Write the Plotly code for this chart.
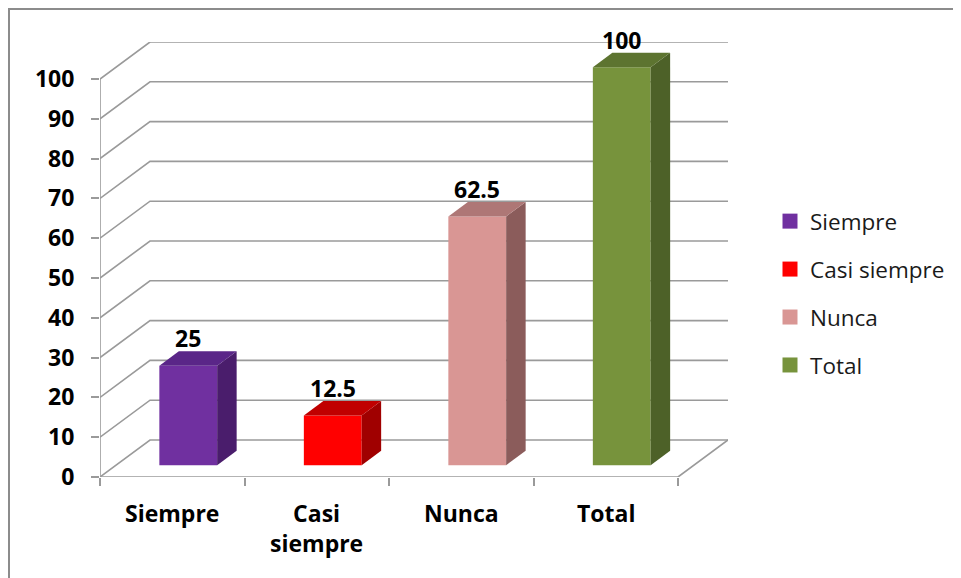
import plotly.graph_objects as go

categories = ["Siempre", "Casi siempre", "Nunca", "Total"]
axis_labels = ["Siempre", "Casi<br>siempre", "Nunca", "Total"]
values = [25, 12.5, 62.5, 100]
y_ticks = [0, 10, 20, 30, 40, 50, 60, 70, 80, 90, 100]

front_colors = ["#7030A0", "#FF0000", "#D99694", "#77933C"]
top_colors = ["#5A2688", "#C00000", "#AE7776", "#5D7430"]
side_colors = ["#4A1D6C", "#A00000", "#8B5C5B", "#4D6128"]

# pseudo-3D projection (depth offsets in axis units)
DX, DY = 0.346, 9.3
F, B = 0.32, 0.39      # bar front depth, bar depth
HW = 0.2               # half bar width
GRID = "#9a9a9a"
FONT = "Open Sans"
OFF = 8                # page body margin of the browser

# plot area in page pixels
PL, PR, PT, P0 = 100, 728, 42, 477
W, H = 961, 578
PW, PH = PR - PL, P0 - PT


def paper_x(px):
    return (px - PL) / PW


def paper_y(py):
    return (P0 - py) / PH


fig = go.Figure()
n = len(categories)

# back-wall gridlines (beneath the bars)
for v in y_ticks:
    fig.add_shape(type="path", xref="x", yref="y", layer="below",
                  path=f"M 0,{v} L {DX},{v + DY} L {n + DX},{v + DY}",
                  line=dict(color=GRID, width=1.6))
# floor front edge and right edge
fig.add_shape(type="path", xref="x", yref="y", layer="below",
              path=f"M 0,0 L {n},0 L {n + DX},{DY}", line=dict(color=GRID, width=1.6))
# front vertical axis line
fig.add_shape(type="line", xref="x", yref="y", layer="below",
              x0=0, y0=0, x1=0, y1=max(y_ticks), line=dict(color=GRID, width=1.6))

for i, (cat, v) in enumerate(zip(categories, values)):
    c = i + 0.5
    xf = c + F * DX
    yf = F * DY
    xb_off = (F + B) * DX
    yb_off = (F + B) * DY
    # front face
    fig.add_trace(go.Bar(x=[xf], y=[v], base=[yf], width=2 * HW,
                         marker=dict(color=front_colors[i], line=dict(width=0)),
                         showlegend=False, name=cat))
    # side face
    fig.add_trace(go.Scatter(
        x=[c + HW + F * DX, c + HW + xb_off, c + HW + xb_off, c + HW + F * DX, c + HW + F * DX],
        y=[yf, yb_off, v + yb_off, v + yf, yf],
        mode="lines", fill="toself", fillcolor=side_colors[i],
        line=dict(width=0, color=side_colors[i]), hoverinfo="skip", showlegend=False))
    # top face
    fig.add_trace(go.Scatter(
        x=[c - HW + F * DX, c + HW + F * DX, c + HW + xb_off, c - HW + xb_off, c - HW + F * DX],
        y=[v + yf, v + yf, v + yb_off, v + yb_off, v + yf],
        mode="lines", fill="toself", fillcolor=top_colors[i],
        line=dict(width=0, color=top_colors[i]), hoverinfo="skip", showlegend=False))
    # value label
    fig.add_annotation(x=xf, y=v + yb_off, text=f"{v:g}", showarrow=False,
                       yanchor="bottom", yshift=-5,
                       font=dict(family=FONT, size=23, color="black", weight="bold"))
    # category label
    fig.add_annotation(x=c, xref="x", yref="paper", y=paper_y(495), text=axis_labels[i],
                       showarrow=False, yanchor="top", align="center",
                       font=dict(family=FONT, size=23, color="black", weight="bold"))

# legend entries
for i, cat in enumerate(categories):
    fig.add_trace(go.Scatter(x=[None], y=[None], mode="markers", name=cat,
                             legendgroup=cat,
                             marker=dict(symbol="square", size=15, color=front_colors[i])))

# outer frame
fig.add_shape(type="rect", xref="paper", yref="paper",
              x0=paper_x(OFF + 1), x1=paper_x(990),
              y0=paper_y(600), y1=paper_y(OFF + 1),
              line=dict(color="#8c8c8c", width=2), layer="below")

fig.update_layout(
    width=W, height=H,
    margin=dict(l=PL - OFF, r=W - (PR - OFF), t=PT - OFF, b=H - (P0 - OFF)),
    paper_bgcolor="white", plot_bgcolor="rgba(0,0,0,0)",
    barmode="overlay",
    showlegend=True,
    legend=dict(x=paper_x(770), y=paper_y(200), xanchor="left", yanchor="top",
                font=dict(family=FONT, size=22.5, color="#1a1a1a"),
                tracegroupgap=15.7, bgcolor="rgba(0,0,0,0)"),
    xaxis=dict(range=[0, n + DX], showgrid=False, zeroline=False, showline=False,
               tickvals=list(range(n + 1)), ticks="outside", ticklen=8, tickwidth=1.6,
               tickcolor=GRID, showticklabels=False, fixedrange=True),
    yaxis=dict(range=[0, max(y_ticks) + DY], showgrid=False, zeroline=False, showline=False,
               tickvals=y_ticks, ticks="outside", ticklen=8, tickwidth=1.6, tickcolor=GRID,
               ticklabelstandoff=12,
               tickfont=dict(family=FONT, size=23, color="black", weight="bold"),
               fixedrange=True),
)

fig.write_html("out.html")
